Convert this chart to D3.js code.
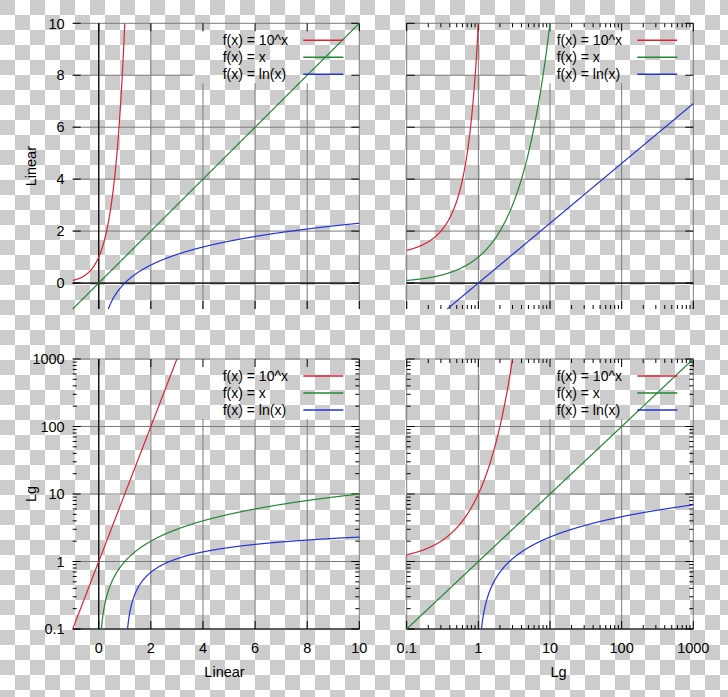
<!DOCTYPE html>
<html>
<head>
<meta charset="utf-8">
<script src="https://cdn.jsdelivr.net/npm/d3@7"></script>
<style>
  html, body { margin: 0; padding: 0; background: #fff; }
  svg { display: block; }
  text { font-family: "Liberation Sans", Arial, sans-serif; fill: #000; }
</style>
</head>
<body>
<svg id="chart" width="728" height="697"></svg>
<script>
// ---------- data ----------
const seriesLabels = ["f(x) = 10^x", "f(x) = x", "f(x) = ln(x)"];
const seriesFns = [x => Math.pow(10, x), x => x, x => Math.log(x)];
const seriesInverse = [y => (y > 0 ? Math.log10(y) : -Infinity), y => y, y => Math.exp(y)];
const seriesColors = ["#dd2233", "#228833", "#2233dd"];

const linearDomain = [-1, 10];
const logDomain = [0.1, 1000];
const linearTicks = [0, 2, 4, 6, 8, 10];
const logTicks = [0.1, 1, 10, 100, 1000];
const logTickLabels = ["0.1", "1", "10", "100", "1000"];
const linearTickLabels = ["0", "2", "4", "6", "8", "10"];
const axisTitles = ["Linear", "Lg"];

// panel layout
const panels = [
  { xType: "lin", yType: "lin", col: 0, row: 0 },
  { xType: "log", yType: "lin", col: 1, row: 0 },
  { xType: "lin", yType: "log", col: 0, row: 1 },
  { xType: "log", yType: "log", col: 1, row: 1 }
];

// ---------- layout ----------
const colX = [[72.7, 359.3], [406.7, 693.3]];
const rowY = [[23.3, 309], [359, 629]];
const W = 728, H = 697;

const svg = d3.select("#chart");

// checkerboard background
const SQ = 15, OX = 0, OY = 0;
const defs = svg.append("defs");
const pat = defs.append("pattern").attr("id", "checker")
  .attr("patternUnits", "userSpaceOnUse")
  .attr("width", SQ * 2).attr("height", SQ * 2)
  .attr("x", OX).attr("y", OY);
pat.append("rect").attr("width", SQ * 2).attr("height", SQ * 2).attr("fill", "#ffffff");
pat.append("rect").attr("width", SQ).attr("height", SQ).attr("fill", "#cccccc");
pat.append("rect").attr("x", SQ).attr("y", SQ).attr("width", SQ).attr("height", SQ).attr("fill", "#cccccc");
svg.append("rect").attr("width", W).attr("height", H).attr("fill", "url(#checker)");

const gridColor = "#7a7a7a";

function minorLogTicks() {
  const out = [];
  [0.1, 1, 10, 100].forEach(d => { for (let k = 2; k <= 9; k++) out.push(d * k); });
  return out;
}

panels.forEach((p) => {
  const [x0, x1] = colX[p.col];
  const [yTop, yBot] = rowY[p.row];
  const xs = p.xType === "lin" ? d3.scaleLinear().domain(linearDomain).range([x0, x1])
                               : d3.scaleLog().domain(logDomain).range([x0, x1]);
  const ys = p.yType === "lin" ? d3.scaleLinear().domain(linearDomain).range([yBot, yTop])
                               : d3.scaleLog().domain(logDomain).range([yBot, yTop]);
  const xMajor = p.xType === "lin" ? linearTicks : logTicks;
  const yMajor = p.yType === "lin" ? linearTicks : logTicks;
  const xMinor = p.xType === "lin" ? [] : minorLogTicks();
  const yMinor = p.yType === "lin" ? [] : minorLogTicks();

  const g = svg.append("g");

  // key box (grid hidden under it)
  const key = { x0: x0 + 120, x1: x1 - 1, y0: yTop + 1, y1: yTop + 60 };

  // grid lines
  const gridG = g.append("g").attr("stroke", gridColor).attr("stroke-width", 1).attr("fill", "none");
  xMajor.forEach(v => {
    const X = xs(v);
    if (X > key.x0 && X < key.x1) {
      gridG.append("line").attr("x1", X).attr("x2", X).attr("y1", key.y1).attr("y2", yBot);
    } else {
      gridG.append("line").attr("x1", X).attr("x2", X).attr("y1", yTop).attr("y2", yBot);
    }
  });
  yMajor.forEach(v => {
    const Y = ys(v);
    if (Y > key.y0 && Y < key.y1) {
      gridG.append("line").attr("x1", x0).attr("x2", key.x0).attr("y1", Y).attr("y2", Y);
    } else {
      gridG.append("line").attr("x1", x0).attr("x2", x1).attr("y1", Y).attr("y2", Y);
    }
  });

  // zero axes
  const axG = g.append("g").attr("stroke", "#000").attr("stroke-width", 1.2);
  if (p.xType === "lin") {
    axG.append("line").attr("x1", xs(0)).attr("x2", xs(0)).attr("y1", yTop).attr("y2", yBot);
  }
  if (p.yType === "lin") {
    axG.append("line").attr("x1", x0).attr("x2", x1).attr("y1", ys(0)).attr("y2", ys(0));
  } else {
    axG.append("line").attr("x1", x0).attr("x2", x1).attr("y1", ys(logDomain[0])).attr("y2", ys(logDomain[0]));
  }

  // tick marks on all four sides
  const tk = g.append("g").attr("stroke", "#000").attr("stroke-width", 1);
  const maj = 8, mnr = 4;
  xMajor.forEach(v => {
    const X = xs(v);
    tk.append("line").attr("x1", X).attr("x2", X).attr("y1", yBot).attr("y2", yBot - maj);
    tk.append("line").attr("x1", X).attr("x2", X).attr("y1", yTop).attr("y2", yTop + maj);
  });
  xMinor.forEach(v => {
    const X = xs(v);
    tk.append("line").attr("x1", X).attr("x2", X).attr("y1", yBot).attr("y2", yBot - mnr);
    tk.append("line").attr("x1", X).attr("x2", X).attr("y1", yTop).attr("y2", yTop + mnr);
  });
  yMajor.forEach(v => {
    const Y = ys(v);
    tk.append("line").attr("x1", x0).attr("x2", x0 + maj).attr("y1", Y).attr("y2", Y);
    tk.append("line").attr("x1", x1).attr("x2", x1 - maj).attr("y1", Y).attr("y2", Y);
  });
  yMinor.forEach(v => {
    const Y = ys(v);
    tk.append("line").attr("x1", x0).attr("x2", x0 + mnr).attr("y1", Y).attr("y2", Y);
    tk.append("line").attr("x1", x1).attr("x2", x1 - mnr).attr("y1", Y).attr("y2", Y);
  });

  // tick labels
  if (p.col === 0) {
    const labs = p.yType === "lin" ? linearTickLabels : logTickLabels;
    yMajor.forEach((v, i) => {
      g.append("text").attr("x", x0 - 8).attr("y", ys(v)).attr("dy", "0.36em")
        .attr("text-anchor", "end").attr("font-size", 14.5).text(labs[i]);
    });
    g.append("text").attr("transform", `translate(36,${(yTop + yBot) / 2}) rotate(-90)`)
      .attr("text-anchor", "middle").attr("font-size", 14.5)
      .text(p.yType === "lin" ? axisTitles[0] : axisTitles[1]);
  }
  if (p.row === 1) {
    const labs = p.xType === "lin" ? linearTickLabels : logTickLabels;
    xMajor.forEach((v, i) => {
      g.append("text").attr("x", xs(v)).attr("y", 653)
        .attr("text-anchor", "middle").attr("font-size", 14.5).text(labs[i]);
    });
    g.append("text").attr("x", (x0 + x1) / 2 + 8.5).attr("y", 677)
      .attr("text-anchor", "middle").attr("font-size", 14.5)
      .text(p.xType === "lin" ? axisTitles[0] : axisTitles[1]);
  }

  // curves
  const line = d3.line().x(d => xs(d[0])).y(d => ys(d[1]));
  const xd = xs.domain(), yd = ys.domain();
  seriesFns.forEach((f, si) => {
    const inv = seriesInverse[si];
    const a = Math.max(xd[0], inv(yd[0]));
    const b = Math.min(xd[1], inv(yd[1]));
    if (!(b > a)) return;
    const N = 600;
    const pts = [];
    for (let i = 0; i <= N; i++) {
      const t = i / N;
      const x = p.xType === "log" ? Math.exp(Math.log(a) + t * (Math.log(b) - Math.log(a)))
                                  : a + t * (b - a);
      pts.push([x, f(x)]);
    }
    g.append("path").attr("d", line(pts)).attr("fill", "none")
      .attr("stroke", seriesColors[si]).attr("stroke-width", 1.2);
  });

  // legend
  seriesLabels.forEach((lab, si) => {
    const Y = yTop + 17 * (si + 1);
    g.append("text").attr("x", x0 + 150).attr("y", Y).attr("dy", "0.36em")
      .attr("font-size", 14).text(lab);
    g.append("line").attr("x1", x1 - 56).attr("x2", x1 - 16).attr("y1", Y).attr("y2", Y)
      .attr("stroke", seriesColors[si]).attr("stroke-width", 1.4);
  });
});
</script>
</body>
</html>
